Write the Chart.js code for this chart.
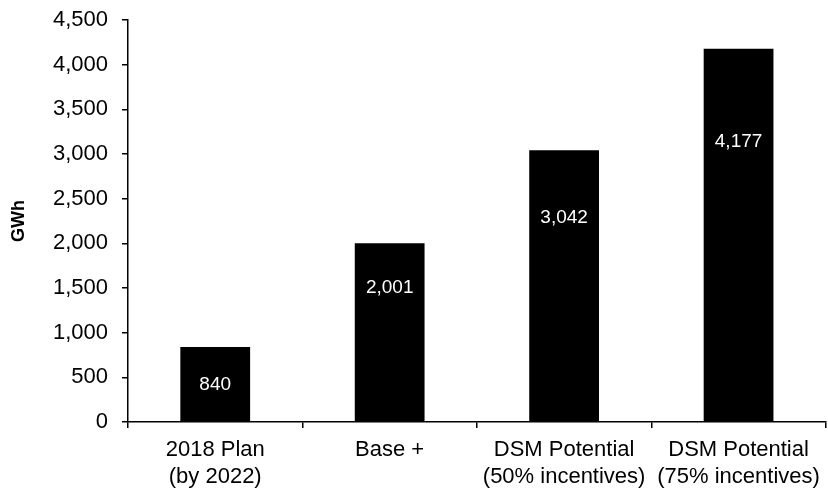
<!DOCTYPE html>
<html>
<head>
<meta charset="utf-8">
<script src="https://cdn.jsdelivr.net/npm/chart.js@4"></script>
<style>
  html, body { margin: 0; padding: 0; background: #fff; }
  #wrap { width: 828px; height: 492px; }
</style>
</head>
<body>
<div id="wrap"><canvas id="chart" width="828" height="492"></canvas></div>
<script>
const categories = [
    ["2018 Plan", "(by 2022)"],
    ["Base +"],
    ["DSM Potential", "(50% incentives)"],
    ["DSM Potential", "(75% incentives)"]
];
const savings = [840, 2001, 3042, 4177];
const yTicks = [0, 500, 1000, 1500, 2000, 2500, 3000, 3500, 4000, 4500];

const fontFamily = "'Liberation Sans', Arial, sans-serif";

// white value labels drawn inside each bar
const barLabels = {
    id: "barLabels",
    afterDatasetsDraw: function (chart) {
        const ctx = chart.ctx;
        const meta = chart.getDatasetMeta(0);
        ctx.save();
        ctx.fillStyle = "#fff";
        ctx.font = "19px " + fontFamily;
        ctx.textAlign = "center";
        ctx.textBaseline = "middle";
        meta.data.forEach(function (bar, i) {
            const h = bar.base - bar.y;
            const y = bar.y + Math.max(h * 0.25, 38);
            ctx.fillText(savings[i].toLocaleString("en-US"), bar.x, y);
        });
        ctx.restore();
    }
};

new Chart(document.getElementById("chart"), {
    type: "bar",
    data: {
        labels: categories,
        datasets: [{
            data: savings,
            backgroundColor: "#000",
            borderWidth: 0,
            categoryPercentage: 0.8,
            barPercentage: 0.5
        }]
    },
    options: {
        responsive: false,
        animation: false,
        layout: { padding: { top: 20, right: 1, left: 0, bottom: 0 } },
        plugins: {
            legend: { display: false },
            tooltip: { enabled: false }
        },
        scales: {
            x: {
                afterFit: function (scale) { scale.height = 70; },
                grid: {
                    display: true,
                    offset: true,
                    drawOnChartArea: false,
                    color: "#000",
                    tickLength: 6,
                    lineWidth: 1.5
                },
                border: { color: "#000", width: 1.5 },
                ticks: {
                    color: "#000",
                    padding: 8,
                    font: { family: fontFamily, size: 22, lineHeight: 1.25 },
                    maxRotation: 0,
                    autoSkip: false
                }
            },
            y: {
                min: 0,
                max: 4500,
                afterFit: function (scale) {
                    scale.width = 128;
                    scale.paddingTop = 0;
                    scale.paddingBottom = 0;
                },
                afterBuildTicks: function (scale) {
                    scale.ticks = yTicks.map(function (v) { return { value: v }; });
                },
                grid: {
                    display: true,
                    drawOnChartArea: false,
                    color: "#000",
                    tickLength: 6,
                    lineWidth: 1.5
                },
                border: { color: "#000", width: 1.5 },
                title: {
                    display: true,
                    text: "GWh",
                    color: "#000",
                    font: { family: fontFamily, size: 18, weight: "bold" },
                    padding: { top: 8, bottom: 0 }
                },
                ticks: {
                    color: "#000",
                    padding: 14,
                    font: { family: fontFamily, size: 22 },
                    callback: function (v) { return v.toLocaleString("en-US"); }
                }
            }
        }
    },
    plugins: [barLabels]
});
</script>
</body>
</html>
